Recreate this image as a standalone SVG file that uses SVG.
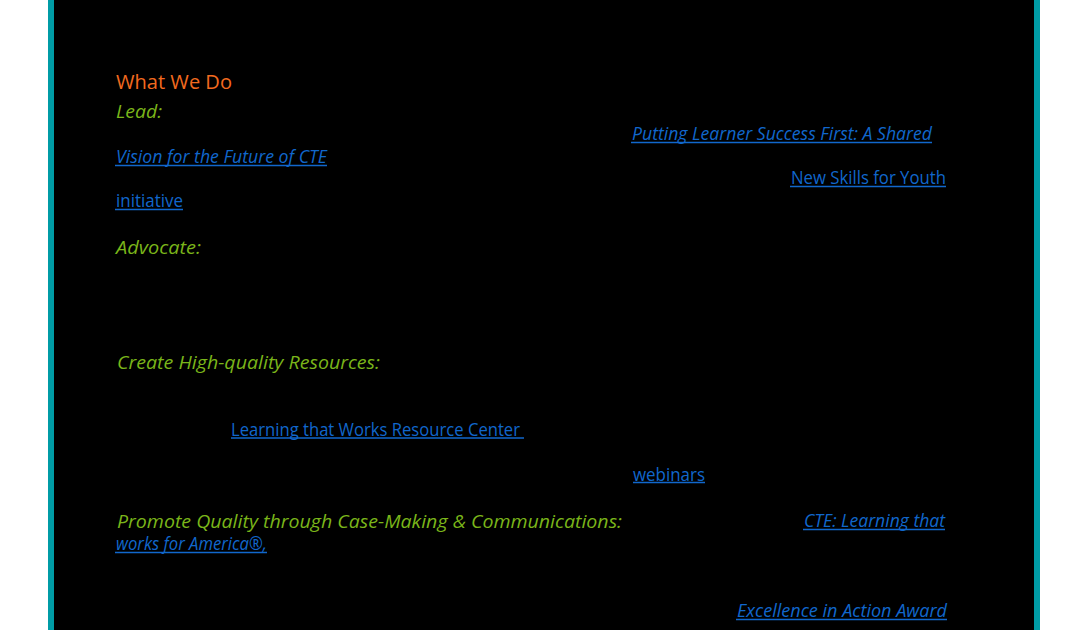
<svg xmlns="http://www.w3.org/2000/svg" width="1088" height="630" viewBox="0 0 1088 630">
<style>
.t{font-family:"Open Sans","Liberation Sans",sans-serif;font-size:19px}
.h{fill:#f26a1f;font-size:20px}
.g{fill:#7ab51a;font-style:italic}
.b{fill:#1167cc}
.bi{fill:#1167cc;font-style:italic}
.u{stroke:#1167cc;stroke-width:1.3}
</style>
<rect x="0" y="0" width="1088" height="630" fill="#ffffff"/>
<rect x="48" y="0" width="992" height="630" fill="#000000"/>
<rect x="48" y="0" width="6" height="630" fill="#009ca6"/>
<rect x="1034" y="0" width="6" height="630" fill="#009ca6"/>
<g id="text">
<text class="t h" x="116" y="89" textLength="116" lengthAdjust="spacingAndGlyphs">What We Do</text>
<text class="t g" x="116" y="118" textLength="46" lengthAdjust="spacingAndGlyphs">Lead:</text>
<text class="t bi" x="632" y="140" textLength="300" lengthAdjust="spacingAndGlyphs">Putting Learner Success First: A Shared</text>
<text class="t bi" x="116" y="163" textLength="211" lengthAdjust="spacingAndGlyphs">Vision for the Future of CTE</text>
<text class="t b" x="791" y="184" textLength="155" lengthAdjust="spacingAndGlyphs">New Skills for Youth</text>
<text class="t b" x="116" y="207" textLength="67" lengthAdjust="spacingAndGlyphs">initiative</text>
<text class="t g" x="116" y="254" textLength="85" lengthAdjust="spacingAndGlyphs">Advocate:</text>
<text class="t g" x="117" y="369" textLength="263" lengthAdjust="spacingAndGlyphs">Create High-quality Resources:</text>
<text class="t b" x="231" y="436" textLength="289" lengthAdjust="spacingAndGlyphs">Learning that Works Resource Center</text>
<text class="t b" x="633" y="481" textLength="72" lengthAdjust="spacingAndGlyphs">webinars</text>
<text class="t g" x="117" y="528" textLength="505" lengthAdjust="spacingAndGlyphs">Promote Quality through Case-Making &amp; Communications:</text>
<text class="t bi" x="804" y="527" textLength="141" lengthAdjust="spacingAndGlyphs">CTE: Learning that</text>
<text class="t bi" x="116" y="550" textLength="151" lengthAdjust="spacingAndGlyphs">works for America®,</text>
<text class="t bi" x="737" y="617" textLength="210" lengthAdjust="spacingAndGlyphs">Excellence in Action Award</text>
</g>
<g id="underlines">
<line class="u" x1="631" y1="142.5" x2="932" y2="142.5"/>
<line class="u" x1="115" y1="165.5" x2="327" y2="165.5"/>
<line class="u" x1="790" y1="186.5" x2="946" y2="186.5"/>
<line class="u" x1="115" y1="209.5" x2="183" y2="209.5"/>
<line class="u" x1="231" y1="438" x2="524" y2="438"/>
<line class="u" x1="633" y1="482.5" x2="705" y2="482.5"/>
<line class="u" x1="803" y1="529.5" x2="945" y2="529.5"/>
<line class="u" x1="115" y1="552.5" x2="267" y2="552.5"/>
<line class="u" x1="736" y1="619.5" x2="947" y2="619.5"/>
</g>
</svg>
